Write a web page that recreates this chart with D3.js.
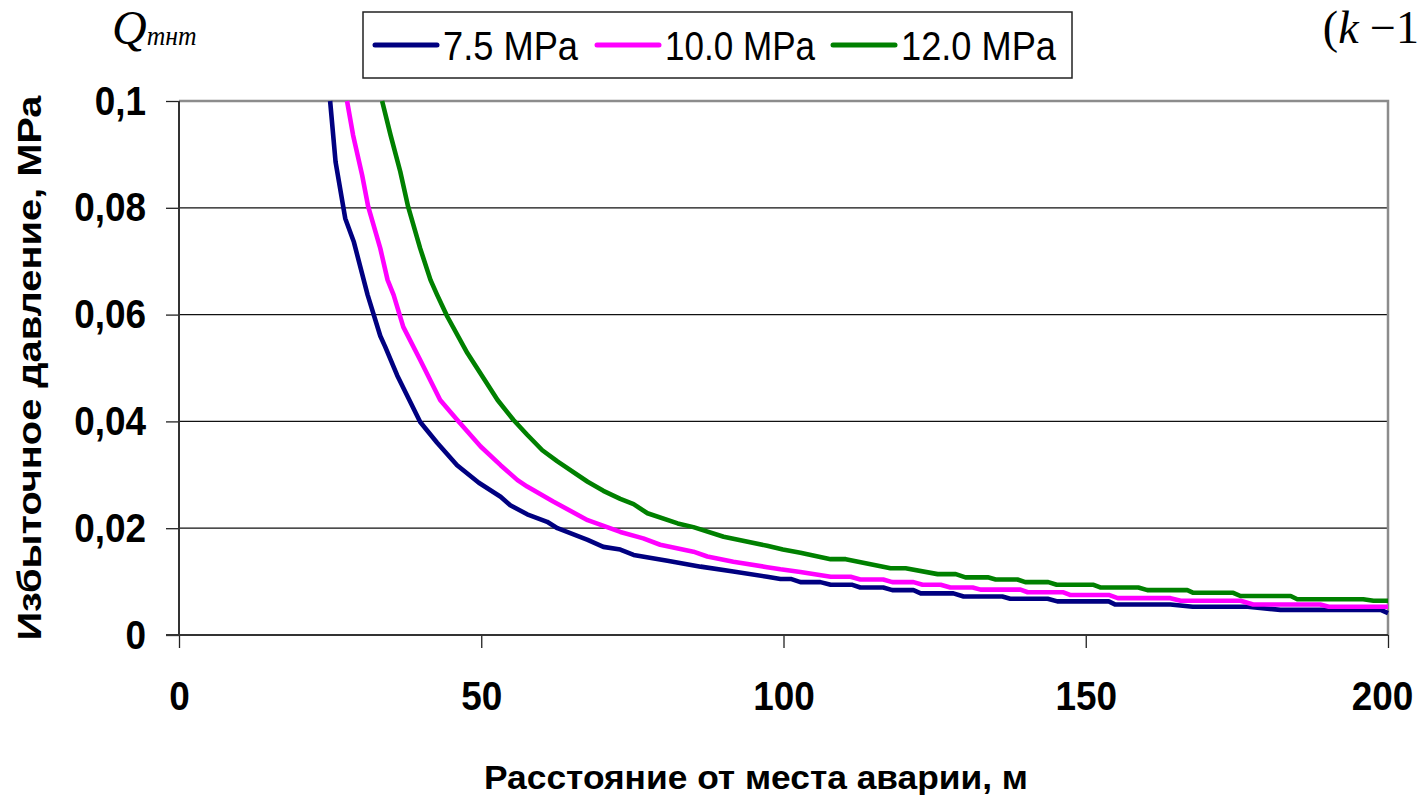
<!DOCTYPE html>
<html>
<head>
<meta charset="utf-8">
<script src="https://cdn.jsdelivr.net/npm/d3@7"></script>
<style>
  body { margin: 0; background: #fff; }
  svg { display: block; font-family: "Liberation Sans", Arial, sans-serif; }
</style>
</head>
<body>
<div id="chart"></div>
<script>
// distances, m
const navyDist = [25.0, 25.9, 27.5, 28.9, 31.2, 33.3, 34.1, 36.1, 39.9, 42.7, 46.0, 49.6, 53.2, 54.8, 57.6, 60.9, 62.6, 67.6, 70.2, 73.0, 75.2, 80.8, 86.3, 91.7, 97.3, 99.5, 101.2, 102.8, 106.1, 107.8, 111.4, 112.7, 116.5, 118.0, 121.5, 122.7, 128.1, 129.8, 136.2, 137.5, 143.7, 145.3, 153.8, 154.9, 164.0, 167.7, 176.8, 182.2, 198.8, 200];
const navyVal = [0.100, 0.0886, 0.0780, 0.0737, 0.0637, 0.0560, 0.0540, 0.0486, 0.0399, 0.0360, 0.0318, 0.0285, 0.0259, 0.0243, 0.0226, 0.0212, 0.0200, 0.0178, 0.0165, 0.0160, 0.0150, 0.0139, 0.0128, 0.0119, 0.0109, 0.0105, 0.0105, 0.0099, 0.0099, 0.0094, 0.0094, 0.0089, 0.0089, 0.0084, 0.0084, 0.0078, 0.0078, 0.0072, 0.0072, 0.0068, 0.0068, 0.0063, 0.0063, 0.0057, 0.0057, 0.0053, 0.0053, 0.0047, 0.0047, 0.0041];

const pinkDist = [27.8, 28.8, 30.3, 31.3, 33.3, 34.5, 35.5, 37.1, 39.9, 43.2, 46.0, 49.9, 53.2, 56.0, 57.6, 61.9, 67.6, 73.0, 76.8, 79.6, 85.1, 87.4, 91.7, 97.3, 99.5, 102.8, 107.8, 111.1, 112.7, 116.5, 118.0, 121.5, 123.0, 126.0, 127.6, 131.3, 132.6, 139.2, 140.4, 146.3, 147.4, 153.8, 155.3, 164.0, 165.7, 175.6, 177.7, 188.8, 190.2, 200];
const pinkVal = [0.100, 0.0936, 0.0861, 0.0802, 0.0724, 0.0665, 0.0637, 0.0577, 0.0515, 0.0440, 0.0403, 0.0353, 0.0318, 0.0290, 0.0278, 0.0250, 0.0215, 0.0193, 0.0181, 0.0169, 0.0156, 0.0147, 0.0137, 0.0127, 0.0123, 0.0118, 0.0109, 0.0109, 0.0104, 0.0104, 0.0099, 0.0099, 0.0094, 0.0094, 0.0089, 0.0089, 0.0085, 0.0085, 0.0080, 0.0080, 0.0075, 0.0075, 0.0069, 0.0069, 0.0064, 0.0064, 0.0057, 0.0057, 0.0053, 0.0053];

const greenDist = [33.6, 35.0, 36.6, 37.9, 39.9, 41.6, 42.7, 44.4, 47.7, 52.7, 55.3, 57.6, 60.1, 62.6, 67.6, 70.2, 73.0, 75.2, 77.5, 82.5, 85.1, 90.1, 97.3, 99.9, 102.8, 107.8, 110.3, 117.7, 120.2, 125.5, 128.5, 130.1, 133.8, 135.1, 138.7, 140.0, 143.8, 145.2, 151.3, 152.4, 158.7, 160.2, 166.8, 167.8, 174.4, 175.6, 183.9, 185.0, 195.9, 197.6, 200];
const greenVal = [0.100, 0.0936, 0.0868, 0.0802, 0.0724, 0.0665, 0.0637, 0.0596, 0.0528, 0.0440, 0.0403, 0.0375, 0.0346, 0.0325, 0.0287, 0.0270, 0.0255, 0.0245, 0.0228, 0.0209, 0.0202, 0.0184, 0.0167, 0.0160, 0.0154, 0.0142, 0.0142, 0.0125, 0.0125, 0.0114, 0.0114, 0.0108, 0.0108, 0.0104, 0.0104, 0.0099, 0.0099, 0.0094, 0.0094, 0.0089, 0.0089, 0.0084, 0.0084, 0.0079, 0.0079, 0.0073, 0.0073, 0.0067, 0.0067, 0.0064, 0.0064];

const seriesNames = ["7.5 MPa", "10.0 MPa", "12.0 MPa"];
const seriesColors = ["#000080", "#FF00FF", "#008000"];

const xTicks = [0, 50, 100, 150, 200];
const yTicks = [0, 0.02, 0.04, 0.06, 0.08, 0.1];
const yTickLabels = ["0", "0,02", "0,04", "0,06", "0,08", "0,1"];

const width = 1422, height = 795;
const plot = {left: 179, right: 1388, top: 101, bottom: 635};

const series = [
    {name: seriesNames[0], color: seriesColors[0], pts: navyDist.map((d, i) => [d, navyVal[i]])},
    {name: seriesNames[1], color: seriesColors[1], pts: pinkDist.map((d, i) => [d, pinkVal[i]])},
    {name: seriesNames[2], color: seriesColors[2], pts: greenDist.map((d, i) => [d, greenVal[i]])}
];

const svg = d3.select("#chart").append("svg")
    .attr("width", width)
    .attr("height", height);

svg.append("rect").attr("width", width).attr("height", height).attr("fill", "#fff");

const x = d3.scaleLinear().domain([0, 200]).range([plot.left, plot.right]);
const y = d3.scaleLinear().domain([0, 0.1]).range([plot.bottom, plot.top]);

// narrow-and-tall look of the original lettering
function squeeze(sel, k) {
    sel.each(function() {
        const w = this.getComputedTextLength();
        d3.select(this).attr("textLength", w * k).attr("lengthAdjust", "spacingAndGlyphs");
    });
}

// gridlines
svg.append("g")
    .selectAll("line")
    .data(yTicks.slice(1, -1))
    .enter().append("line")
    .attr("x1", plot.left).attr("x2", plot.right)
    .attr("y1", d => y(d)).attr("y2", d => y(d))
    .attr("stroke", "#111")
    .attr("stroke-width", 1.2);

// plot frame (top/right grey)
svg.append("path")
    .attr("d", `M${plot.left},${plot.top}H${plot.right}V${plot.bottom}`)
    .attr("fill", "none")
    .attr("stroke", "#8c8c8c")
    .attr("stroke-width", 2.5);

// axes
const yAxis = d3.axisLeft(y)
    .tickValues(yTicks)
    .tickFormat((d, i) => yTickLabels[i])
    .tickSize(13)
    .tickPadding(20);

const xAxis = d3.axisBottom(x)
    .tickValues(xTicks)
    .tickFormat(d3.format("d"))
    .tickSize(13)
    .tickPadding(33);

const gy = svg.append("g").attr("transform", `translate(${plot.left},0)`).call(yAxis);
const gx = svg.append("g").attr("transform", `translate(0,${plot.bottom})`).call(xAxis);

[gx, gy].forEach(g => {
    g.select(".domain").remove();
    g.selectAll(".tick line").attr("stroke", "#222").attr("stroke-width", 1.3);
    g.selectAll("text")
        .attr("fill", "#000")
        .style("font-family", "'Liberation Sans', Arial, sans-serif")
        .style("font-weight", "bold")
        .style("font-size", "41px")
        .call(squeeze, 0.9);
});
// last label sits on the window edge
gx.selectAll(".tick text").filter(d => d === 200).attr("dx", -6);

svg.append("line")
    .attr("x1", plot.left).attr("x2", plot.left)
    .attr("y1", plot.top).attr("y2", plot.bottom)
    .attr("stroke", "#333").attr("stroke-width", 2);
svg.append("line")
    .attr("x1", plot.left - 13).attr("x2", plot.right)
    .attr("y1", plot.bottom).attr("y2", plot.bottom)
    .attr("stroke", "#333").attr("stroke-width", 2.2);

// curves
svg.append("clipPath").attr("id", "clip")
    .append("rect")
    .attr("x", plot.left).attr("y", plot.top - 1)
    .attr("width", plot.right - plot.left + 4).attr("height", plot.bottom - plot.top + 1);

const line = d3.line()
    .x(d => x(d[0]))
    .y(d => y(d[1]));

svg.append("g").attr("clip-path", "url(#clip)")
    .selectAll("path")
    .data(series)
    .enter().append("path")
    .attr("d", d => line(d.pts))
    .attr("fill", "none")
    .attr("stroke", d => d.color)
    .attr("stroke-width", 4.6)
    .attr("stroke-linejoin", "round");

// axis titles
svg.append("text")
    .attr("x", 756).attr("y", 789)
    .attr("text-anchor", "middle")
    .attr("textLength", 544)
    .attr("lengthAdjust", "spacingAndGlyphs")
    .style("font-weight", "bold")
    .style("font-size", "34px")
    .text("Расстояние от места аварии, м");

svg.append("text")
    .attr("transform", "translate(41,368) rotate(-90)")
    .attr("text-anchor", "middle")
    .attr("textLength", 545)
    .attr("lengthAdjust", "spacingAndGlyphs")
    .style("font-weight", "bold")
    .style("font-size", "34px")
    .text("Избыточное давление, МРа");

// legend
const legend = svg.append("g");
legend.append("rect")
    .attr("x", 363).attr("y", 12)
    .attr("width", 709).attr("height", 66)
    .attr("fill", "#fff")
    .attr("stroke", "#222")
    .attr("stroke-width", 1.5);

const legendX = [375, 597, 833];
const legendTextW = [135, 150, 155];
const item = legend.selectAll(".item")
    .data(series)
    .enter().append("g")
    .attr("class", "item")
    .attr("transform", (d, i) => `translate(${legendX[i]},0)`);

item.append("line")
    .attr("x1", 0).attr("x2", 62)
    .attr("y1", 45).attr("y2", 45)
    .attr("stroke", d => d.color)
    .attr("stroke-width", 5)
    .attr("stroke-linecap", "round");

item.append("text")
    .attr("x", 68).attr("y", 60)
    .attr("textLength", (d, i) => legendTextW[i])
    .attr("lengthAdjust", "spacingAndGlyphs")
    .style("font-size", "40px")
    .text(d => d.name);

// formula fragments at the top edge
const q = svg.append("text")
    .attr("x", 112).attr("y", 44)
    .style("font-family", "'Liberation Serif', 'Times New Roman', serif")
    .style("font-style", "italic");
q.append("tspan").style("font-size", "48px").text("Q");
q.append("tspan").attr("dy", 1).style("font-size", "28px")
    .attr("textLength", 50).attr("lengthAdjust", "spacingAndGlyphs").text("тнт");

const k = svg.append("text")
    .attr("x", 1419).attr("y", 43)
    .attr("text-anchor", "end")
    .style("font-family", "'Liberation Serif', 'Times New Roman', serif")
    .style("font-size", "46px");
k.append("tspan").text("(");
k.append("tspan").style("font-style", "italic").text("k");
k.append("tspan").text(" −1");
</script>
</body>
</html>
